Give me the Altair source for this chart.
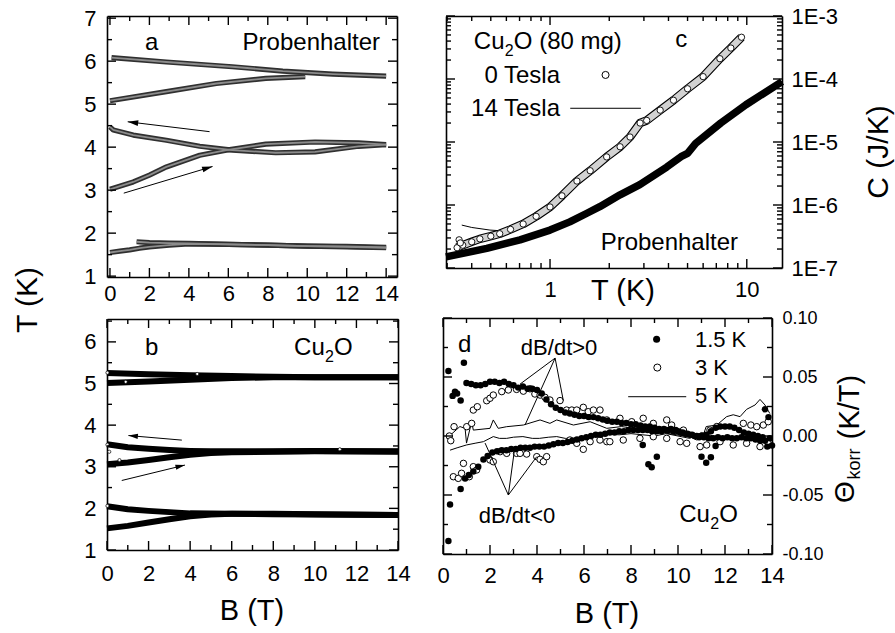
import altair as alt
import pandas as pd

W, H = 895, 633
FONT = "Liberation Sans"

# ================= DATA =================
# Panel a (Probenhalter): T (K) vs B (T)
a_B_1up = [0.0, 0.5, 1.0, 1.5, 2.0, 3.0, 4.0, 6.0, 8.0, 10.0, 12.0, 14.0]
a_T_1up = [1.55, 1.58, 1.61, 1.65, 1.68, 1.72, 1.75, 1.74, 1.72, 1.70, 1.68, 1.66]
a_B_1dn = [14.0, 12.0, 10.0, 8.0, 6.0, 4.0, 3.0, 2.0, 1.35]
a_T_1dn = [1.67, 1.69, 1.70, 1.72, 1.74, 1.76, 1.77, 1.78, 1.80]
a_B_2up = [0.0, 1.18, 2.0, 2.86, 4.55, 5.9, 7.9, 10.4, 12.6, 14.0]
a_T_2up = [3.02, 3.19, 3.35, 3.54, 3.81, 3.93, 4.07, 4.12, 4.10, 4.06]
a_B_2dn = [14.0, 12.6, 10.4, 8.4, 6.2, 4.55, 2.86, 1.18, 0.17, 0.0]
a_T_2dn = [4.06, 4.02, 3.89, 3.87, 3.93, 4.02, 4.16, 4.28, 4.40, 4.47]
a_B_3up = [0.0, 2.86, 5.39, 7.9, 9.9]
a_T_3up = [5.08, 5.29, 5.48, 5.60, 5.64]
a_B_3dn = [14.0, 11.3, 8.76, 6.2, 2.86, 0.08]
a_T_3dn = [5.65, 5.70, 5.77, 5.87, 5.98, 6.08]
a_arrow_B0 = [5.05, 0.7]
a_arrow_T0 = [4.36, 2.93]
a_arrow_B1 = [0.9, 5.2]
a_arrow_T1 = [4.59, 3.55]
a_arrow_ang = [187, 343]

# Panel b (Cu2O): T (K) vs B (T)
b_B_1up = [0, 1, 2, 3, 4, 5, 6, 8, 10, 14]
b_T_1up = [1.52, 1.58, 1.66, 1.74, 1.81, 1.85, 1.87, 1.87, 1.86, 1.84]
b_B_1dn = [14, 10, 8, 6, 4, 3, 2, 1, 0]
b_T_1dn = [1.84, 1.85, 1.86, 1.87, 1.88, 1.91, 1.94, 1.98, 2.05]
b_B_2up = [0, 1, 2, 3, 4, 5, 6, 8, 10, 14]
b_T_2up = [3.06, 3.10, 3.16, 3.23, 3.29, 3.33, 3.35, 3.36, 3.37, 3.36]
b_B_2dn = [14, 10, 8, 6, 5, 4, 3, 2, 1, 0]
b_T_2dn = [3.37, 3.38, 3.37, 3.37, 3.37, 3.38, 3.40, 3.43, 3.47, 3.54]
b_B_3up = [0, 1, 2, 4, 6, 8, 10, 14]
b_T_3up = [5.01, 5.03, 5.05, 5.09, 5.13, 5.15, 5.15, 5.15]
b_B_3dn = [14, 10, 8, 6, 4, 2, 0]
b_T_3dn = [5.15, 5.15, 5.16, 5.18, 5.20, 5.22, 5.25]
b_dot_B = [0.02, 0.9, 4.34, 0.02, 0.11, 0.6, 0.02, 11.2]
b_dot_T = [5.26, 5.04, 5.23, 3.53, 3.36, 3.16, 2.06, 3.42]
b_arrow_B0 = [3.6, 0.71]
b_arrow_T0 = [3.64, 2.67]
b_arrow_B1 = [1.03, 3.75]
b_arrow_T1 = [3.75, 3.04]
b_arrow_ang = [185, 347]

# Panel c: C (J/K) vs T (K), log-log
c0_T = [0.337, 0.36, 0.40, 0.44, 0.50, 0.555, 0.63, 0.73, 0.85, 1.0, 1.15, 1.37, 1.6,
        1.94, 2.27, 2.55, 2.87, 3.1, 3.63, 4.24, 5.0, 6.0, 7.3, 8.3, 9.4]
c0_C = [2.1e-7, 2.3e-7, 2.6e-7, 2.9e-7, 3.2e-7, 3.5e-7, 4.1e-7, 5.0e-7, 6.6e-7, 9.3e-7,
        1.4e-6, 2.4e-6, 3.5e-6, 5.8e-6, 8.4e-6, 1.2e-5, 2.0e-5, 2.2e-5, 3.2e-5, 4.6e-5,
        7.0e-5, 1.09e-4, 2.1e-4, 3.1e-4, 4.6e-4]
c0_out_T = [0.345, 0.35]
c0_out_C = [2.8e-7, 2.5e-7]
c14_T = [0.356, 0.40, 0.495, 0.56, 0.63, 0.73, 0.85, 1.0, 1.37, 1.94, 2.87, 4.24, 6.0, 9.4]
c14_C = [4.8e-7, 4.4e-7, 4.0e-7, 3.9e-7, 4.2e-7, 5.0e-7, 6.6e-7, 9.3e-7, 2.4e-6, 5.8e-6,
         2.0e-5, 4.6e-5, 1.09e-4, 4.6e-4]
ph_T = [0.296, 0.477, 0.704, 1.0, 1.26, 1.54, 1.79, 2.27, 2.86, 3.92, 4.63, 5.0, 5.5,
        7.38, 9.9, 15.1]
ph_C = [1.5e-7, 2.05e-7, 2.8e-7, 4.0e-7, 5.4e-7, 7.4e-7, 9.4e-7, 1.45e-6, 2.1e-6, 4.0e-6,
        5.85e-6, 6.6e-6, 9.5e-6, 2.0e-5, 3.9e-5, 9.1e-5]

# Panel d: Theta_korr (K/T) vs B (T)
d15_up = [(0.23, 0.055), (0.41, 0.034), (0.51, 0.0375), (0.6, 0.036), (0.75, 0.030),
          (0.89, 0.062), (1.0, 0.045), (1.2, 0.044), (1.4, 0.043), (1.6, 0.043), (1.8, 0.044),
          (2.0, 0.046), (2.2, 0.046), (2.4, 0.045), (2.6, 0.046), (2.8, 0.044), (3.0, 0.043),
          (3.2, 0.041), (3.4, 0.042), (3.6, 0.040), (3.8, 0.040), (4.0, 0.039), (4.2, 0.036),
          (4.4, 0.031), (4.6, 0.027), (4.8, 0.024), (5.0, 0.022), (5.2, 0.020), (5.4, 0.019),
          (5.6, 0.018), (5.8, 0.017), (6.0, 0.017), (6.2, 0.016), (6.4, 0.016), (6.6, 0.015),
          (6.8, 0.014), (7.0, 0.013), (7.2, 0.012), (7.4, 0.012), (7.6, 0.011), (7.8, 0.011),
          (8.0, 0.010), (8.2, 0.010), (8.4, 0.009), (8.6, 0.008), (8.8, 0.008), (9.0, 0.007),
          (9.2, 0.006), (9.4, 0.006), (9.6, 0.005), (9.8, 0.004), (10.0, 0.004), (10.2, 0.003),
          (10.4, 0.002), (10.6, 0.001), (10.8, 0.000), (11.0, 0.000), (11.2, 0.001),
          (11.4, 0.004), (11.6, 0.007), (11.8, 0.008), (12.0, 0.008), (12.2, 0.008),
          (12.4, 0.007), (12.6, 0.005), (12.8, 0.003), (13.0, 0.002), (13.2, 0.001),
          (13.4, 0.000), (13.6, -0.001), (13.7, 0.0226), (13.85, 0.016), (14.0, -0.008)]
d15_dn = [(0.23, -0.089), (0.3, -0.058), (0.75, -0.045), (0.94, -0.036), (1.1, -0.033),
          (1.29, -0.030), (1.5, -0.026), (1.72, -0.020), (1.9, -0.017), (2.1, -0.014),
          (2.3, -0.013), (2.5, -0.012), (2.7, -0.012), (2.9, -0.011), (3.1, -0.011),
          (3.3, -0.010), (3.5, -0.010), (3.7, -0.010), (3.9, -0.009), (4.1, -0.009),
          (4.3, -0.009), (4.5, -0.008), (4.7, -0.007), (4.9, -0.006), (5.1, -0.006),
          (5.3, -0.005), (5.5, -0.004), (5.7, -0.003), (5.9, -0.002), (6.1, -0.001),
          (6.3, 0.000), (6.5, 0.001), (6.7, 0.001), (6.9, 0.002), (7.1, 0.003), (7.3, 0.003),
          (7.5, 0.004), (7.7, 0.004), (7.9, 0.005), (8.1, 0.005), (8.3, 0.005), (8.5, 0.005),
          (8.5, -0.0076), (8.7, 0.005), (8.74, -0.024), (8.88, -0.0265), (8.9, 0.004),
          (9.1, -0.0175), (9.1, 0.004), (9.3, 0.004), (9.5, 0.005), (9.7, 0.006), (9.9, 0.005),
          (10.1, 0.003), (10.3, 0.002), (10.5, 0.001), (10.7, 0.000), (10.9, -0.001),
          (11.0, -0.0175), (11.1, -0.001), (11.2, -0.0226), (11.3, -0.002), (11.4, -0.018),
          (11.5, -0.002), (11.6, -0.0085), (11.7, -0.001), (11.9, -0.002), (12.1, -0.001),
          (12.3, -0.002), (12.5, -0.002), (12.7, -0.001), (12.9, -0.002), (13.1, -0.002),
          (13.3, -0.003), (13.5, -0.004), (13.7, -0.004), (13.8, -0.009), (13.9, -0.002)]
d3_up = [(0.27, 0.000), (0.33, -0.004), (0.47, 0.0079), (1.01, 0.0079), (1.22, 0.0107),
         (1.29, 0.022), (1.46, 0.0248), (1.86, 0.0299), (2.0, 0.032), (2.14, 0.0347),
         (2.5, 0.0376), (2.78, 0.039), (3.13, 0.0395), (3.42, 0.038), (3.7, 0.040),
         (3.91, 0.0356), (4.13, 0.0347), (4.34, 0.0328), (4.55, 0.0305), (4.98, 0.030),
         (5.26, 0.022), (5.48, 0.022), (5.69, 0.022), (5.97, 0.0243), (6.18, 0.0206),
         (6.4, 0.022), (6.68, 0.022), (6.97, 0.0136), (7.53, 0.015), (8.03, 0.0121),
         (8.52, 0.015), (8.95, 0.0107), (9.52, 0.0136), (9.73, 0.0093), (10.23, 0.005),
         (10.8, -0.0006), (11.36, 0.005), (11.65, 0.008), (12.78, 0.0107), (13.1, 0.0093),
         (13.35, 0.0079), (13.63, 0.0093), (13.84, 0.0121)]
d3_dn = [(0.44, -0.0345), (0.65, -0.0359), (0.79, -0.0316), (0.87, -0.0232), (1.12, -0.0345),
         (1.29, -0.026), (1.43, -0.0288), (2.0, -0.0203), (2.14, -0.0218), (2.43, -0.0133),
         (2.71, -0.0147), (3.13, -0.0147), (3.28, -0.0147), (3.56, -0.0153), (3.99, -0.0175),
         (4.13, -0.0198), (4.27, -0.0218), (4.41, -0.0175), (5.4, -0.0034), (5.69, -0.0062),
         (5.97, -0.0113), (6.26, -0.0048), (6.68, -0.0034), (6.97, -0.0048), (7.1, -0.0048),
         (7.67, -0.0034), (8.38, -0.002), (8.95, -0.0006), (9.52, -0.002), (10.09, -0.0048),
         (10.37, -0.0062), (10.94, -0.009), (11.22, -0.0076), (11.79, -0.0048),
         (12.35, -0.0076), (12.92, -0.0062), (13.49, -0.009), (13.84, -0.0062)]
d5_up = [(0.16, -0.002), (0.72, 0.008), (0.94, 0.0065), (1.0, -0.006), (1.22, 0.0121),
         (1.29, 0.005), (2.0, 0.0065), (2.14, 0.0136), (2.35, 0.0065), (2.71, 0.0079),
         (3.42, 0.0093), (4.13, 0.0136), (4.55, 0.0107), (4.84, 0.0136), (5.55, 0.0093),
         (6.26, 0.0121), (6.97, 0.0065), (7.6, 0.008), (8.1, 0.0065), (8.6, 0.006),
         (9.1, 0.004), (9.52, 0.0023), (10.5, -0.0006), (11.08, 0.001), (11.2, 0.008),
         (11.65, 0.0093), (12.07, 0.0164), (12.35, 0.018), (12.64, 0.0164), (12.92, 0.0226),
         (13.28, 0.0263), (13.49, 0.031), (13.7, 0.0263), (13.91, 0.019)]
d5_dn = [(0.3, -0.012), (0.6, -0.010), (1.0, -0.0076), (1.4, -0.006), (1.72, -0.0048),
         (2.14, -0.0005), (2.4, -0.002), (2.71, -0.002), (3.0, -0.001), (3.4, -0.0005),
         (3.8, -0.002), (4.1, -0.002), (4.5, -0.001), (4.84, -0.0005), (5.2, -0.002),
         (5.5, -0.002), (6.0, -0.0005), (6.5, 0.0), (6.97, 0.0017), (7.5, 0.001), (8.0, 0.002),
         (8.5, 0.001), (9.0, 0.0), (9.5, 0.002), (10.0, 0.0), (10.5, -0.002), (11.0, 0.003),
         (11.5, 0.0), (12.0, -0.002), (12.5, -0.001), (13.0, -0.003), (13.5, -0.001),
         (14.0, -0.004)]
# pointer lines from the dB/dt labels to the curves
d_ptr_B0 = [4.77, 4.77, 4.77, 2.78, 2.78, 2.78]
d_ptr_T0 = [0.066, 0.066, 0.066, -0.050, -0.050, -0.050]
d_ptr_B1 = [3.28, 3.49, 5.12, 1.79, 3.06, 3.99]
d_ptr_T1 = [0.044, 0.0093, 0.030, -0.006, -0.009, -0.0175]

# tick / label values
ab_x_major = list(range(0, 15, 2))
ab_x_minor = list(range(1, 15, 2))
a_y_major = [1, 2, 3, 4, 5, 6, 7]
a_y_minor = [1.5, 2.5, 3.5, 4.5, 5.5, 6.5]
b_y_major = [1, 2, 3, 4, 5, 6]
b_y_minor = [1.5, 2.5, 3.5, 4.5, 5.5, 6.5]
c_x_major = [1, 10]
c_x_minor = [0.3, 0.4, 0.5, 0.6, 0.7, 0.8, 0.9, 2, 3, 4, 5, 6, 7, 8, 9]
c_y_major = [1e-7, 1e-6, 1e-5, 1e-4, 1e-3]
c_y_minor = [m * 10.0 ** e for e in (-7, -6, -5, -4) for m in range(2, 10)]
d_y_major = [-0.1, -0.05, 0.0, 0.05, 0.1]
d_y_minor = [-0.075, -0.025, 0.025, 0.075]

# ================= LAYOUT (pixel frames of the panels) =================
PA = dict(x0=107, x1=397, y0=16, y1=277, xd=[-0.15, 14.55], yd=[0.98, 7.05], xt="linear", yt="linear")
PB = dict(x0=107, x1=398, y0=319, y1=550, xd=[0, 14], yd=[1.0, 6.55], xt="linear", yt="linear")
PC = dict(x0=446, x1=782, y0=16, y1=268, xd=[0.296, 15.1], yd=[1e-7, 1e-3], xt="log", yt="log")
PD = dict(x0=443, x1=772, y0=318, y1=554, xd=[0, 14], yd=[-0.1, 0.1], xt="linear", yt="linear")
MAJ, MIN = 9, 5
TW = 1.4


def _scale(t, dom, rng):
    if t == "log":
        return alt.Scale(type="log", domain=dom, range=rng, nice=False)
    return alt.Scale(type="linear", domain=dom, range=rng, nice=False, zero=False)


def xs(p):
    return _scale(p["xt"], p["xd"], [p["x0"], p["x1"]])


def ys(p):
    return _scale(p["yt"], p["yd"], [p["y1"], p["y0"]])


def ex(p, f, axis=None):
    return alt.X(f"{f}:Q", scale=xs(p), axis=axis)


def ey(p, f, axis=None):
    return alt.Y(f"{f}:Q", scale=ys(p), axis=axis)


def curves(*specs):
    rows = []
    for name, u, v in specs:
        for i, (a, b) in enumerate(zip(u, v)):
            rows.append({"x": a, "y": b, "c": name, "i": i})
    return pd.DataFrame(rows)


def pairs(*specs):
    rows = []
    for name, pts in specs:
        for i, (a, b) in enumerate(pts):
            rows.append({"x": a, "y": b, "c": name, "i": i})
    return pd.DataFrame(rows)


def line_layer(p, df, color, width):
    return alt.Chart(df).mark_line(color=color, strokeWidth=width, strokeJoin="round").encode(
        x=ex(p, "x"), y=ey(p, "y"), detail="c:N", order="i:Q")


def pts_layer(p, df, size, fill, stroke=None, sw=1.0):
    kw = dict(shape="circle", filled=True, fill=fill, size=size, opacity=1)
    if stroke:
        kw.update(stroke=stroke, strokeWidth=sw)
    return alt.Chart(df).mark_point(**kw).encode(x=ex(p, "x"), y=ey(p, "y"))


ARROW = "M0,0 L-2,-0.55 L-2,0.55 Z"


def segment_layer(p, df, width=1.0):
    """straight segments (x0,y0)-(x1,y1), all four ends through the panel scales"""
    return alt.Chart(df).mark_rule(color="black", strokeWidth=width).encode(
        x=ex(p, "x0"), y=ey(p, "y0"), x2="x1:Q", y2="y1:Q")


def arrow_layers(p, B0, T0, B1, T1, ang, size):
    df = pd.DataFrame({"x0": B0, "y0": T0, "x1": B1, "y1": T1, "a": ang})
    shaft = segment_layer(p, df)
    head = alt.Chart(df).mark_point(shape=ARROW, filled=True, color="black", size=size, opacity=1).encode(
        x=ex(p, "x1"), y=ey(p, "y1"), angle=alt.Angle("a:Q", scale=None))
    return [shaft, head]


def text_at(p, x, y, s, size, align="left", baseline="alphabetic", dx=0, dy=0):
    df = pd.DataFrame({"x": [x], "y": [y]})
    kw = dict(text=s, font=FONT, fontSize=size, align=align, baseline=baseline, color="black")
    if dx:
        kw["dx"] = dx
    if dy:
        kw["dy"] = dy
    return alt.Chart(df).mark_text(**kw).encode(x=ex(p, "x"), y=ey(p, "y"))


ONE = pd.DataFrame({"k": [0]})


def title_at(s, x, y, size, angle=0):
    kw = dict(text=s, font=FONT, fontSize=size, align="center", baseline="middle", color="black")
    if angle:
        kw["angle"] = angle
    return alt.Chart(ONE).mark_text(**kw).encode(x=alt.value(x), y=alt.value(y))


def _inward(t, d0, d1, p0, p1, edge_val, npx, sign):
    """data value lying npx pixels inside the frame from edge_val"""
    if t == "log":
        f = (d1 / d0) ** (npx / abs(p1 - p0))
        return edge_val * f if sign > 0 else edge_val / f
    return edge_val + sign * (d1 - d0) * npx / abs(p1 - p0)


def tick_segments(p, xmaj, xmin, ymaj, ymin):
    """Inward frame ticks as ordinary segments (same construction as the arrow shafts)."""
    (xd0, xd1), (yd0, yd1) = p["xd"], p["yd"]
    rows = []
    for vals, ln in ((xmaj, MAJ), (xmin, MIN)):
        lo_in = _inward(p["yt"], yd0, yd1, p["y0"], p["y1"], yd0, ln, 1)
        hi_in = _inward(p["yt"], yd0, yd1, p["y0"], p["y1"], yd1, ln, -1)
        for v in vals:
            rows.append({"x0": v, "y0": yd0, "x1": v, "y1": lo_in})
            rows.append({"x0": v, "y0": yd1, "x1": v, "y1": hi_in})
    for vals, ln in ((ymaj, MAJ), (ymin, MIN)):
        lo_in = _inward(p["xt"], xd0, xd1, p["x0"], p["x1"], xd0, ln, 1)
        hi_in = _inward(p["xt"], xd0, xd1, p["x0"], p["x1"], xd1, ln, -1)
        for v in vals:
            rows.append({"x0": xd0, "y0": v, "x1": lo_in, "y1": v})
            rows.append({"x0": xd1, "y0": v, "x1": hi_in, "y1": v})
    return segment_layer(p, pd.DataFrame(rows), TW)


def axis_layers(p, xmaj, ymaj, yorient, xpad, ypad, xfs, yfs, xexpr=None, yexpr=None):
    df = pd.DataFrame({"x": p["xd"], "y": p["yd"]})
    base = alt.Chart(df).mark_point(opacity=0)
    out = []
    fc = dict(labels=False, ticks=False, grid=False, title=None, domainColor="black",
              domainWidth=1.6)
    out.append(base.encode(
        x=ex(p, "x", alt.Axis(orient="top", offset=-p["y1"], **fc)),
        y=ey(p, "y", alt.Axis(orient="right", offset=p["x0"] - W, **fc))))
    out.append(base.encode(
        x=ex(p, "x", alt.Axis(orient="bottom", offset=p["y0"] - H, **fc)),
        y=ey(p, "y", alt.Axis(orient="left", offset=-p["x1"], **fc))))
    lc = dict(ticks=False, tickSize=0, domain=False, grid=False, title=None, labelFont=FONT,
              labelColor="black", labelFlush=False, labelOverlap=False)
    xk = dict(lc)
    if xexpr:
        xk["labelExpr"] = xexpr
    yk = dict(lc)
    if yexpr:
        yk["labelExpr"] = yexpr
    yoff = -p["x0"] if yorient == "left" else p["x1"] - W
    out.append(base.encode(
        x=ex(p, "x", alt.Axis(orient="bottom", offset=p["y1"] - H, values=xmaj,
                              labelPadding=xpad, labelFontSize=xfs, **xk)),
        y=ey(p, "y", alt.Axis(orient=yorient, offset=yoff, values=ymaj,
                              labelPadding=ypad, labelFontSize=yfs, **yk))))
    return out


L = []

# ---------- panel a ----------
dfa = curves(("1u", a_B_1up, a_T_1up), ("1d", a_B_1dn, a_T_1dn), ("2u", a_B_2up, a_T_2up),
             ("2d", a_B_2dn, a_T_2dn), ("3u", a_B_3up, a_T_3up), ("3d", a_B_3dn, a_T_3dn))
L.append(line_layer(PA, dfa, "#303030", 5.2))
L.append(line_layer(PA, dfa, "#8c8c8c", 1.8))
L += arrow_layers(PA, a_arrow_B0, a_arrow_T0, a_arrow_B1, a_arrow_T1, a_arrow_ang, 110)
L.append(tick_segments(PA, ab_x_major, ab_x_minor, a_y_major, a_y_minor))
L.append(text_at(PA, 1.78, 6.26, "a", 24))
L.append(text_at(PA, 13.69, 6.26, "Probenhalter", 24, align="right"))
L += axis_layers(PA, ab_x_major, a_y_major, "left", 6, 11, 22, 22)

# ---------- panel b ----------
dfb = curves(("1u", b_B_1up, b_T_1up), ("1d", b_B_1dn, b_T_1dn), ("2u", b_B_2up, b_T_2up),
             ("2d", b_B_2dn, b_T_2dn), ("3u", b_B_3up, b_T_3up), ("3d", b_B_3dn, b_T_3dn))
L.append(line_layer(PB, dfb, "black", 6))
dfbd = pd.DataFrame({"x": b_dot_B, "y": b_dot_T})
L.append(pts_layer(PB, dfbd, 10, "white", "black", 0.7))
L += arrow_layers(PB, b_arrow_B0, b_arrow_T0, b_arrow_B1, b_arrow_T1, b_arrow_ang, 90)
L.append(tick_segments(PB, ab_x_major, ab_x_minor, b_y_major, b_y_minor))
L.append(text_at(PB, 1.83, 5.685, "b", 24))
L.append(text_at(PB, 9.0, 5.685, "Cu", 24))
L.append(text_at(PB, 9.0, 5.685, "2", 16, dx=31, dy=7))
L.append(text_at(PB, 9.0, 5.685, "O", 24, dx=40))
L += axis_layers(PB, ab_x_major, b_y_major, "left", 13, 11, 22, 22)

# ---------- panel c ----------
dfph = curves(("ph", ph_T, ph_C))
dfc0 = curves(("c0", c0_T, c0_C))
dfc14 = curves(("c14", c14_T, c14_C))
dfco = pd.DataFrame({"x": c0_out_T, "y": c0_out_C})
L.append(line_layer(PC, dfph, "black", 7.5))
L.append(line_layer(PC, dfc14, "black", 1))
L.append(line_layer(PC, dfc0, "black", 8.5))
L.append(line_layer(PC, dfc0, "#d2d2d2", 6.3))
L.append(pts_layer(PC, dfc0, 40, "white", "black", 0.9))
L.append(pts_layer(PC, dfco, 40, "white", "black", 0.9))
L.append(tick_segments(PC, c_x_major, c_x_minor, c_y_major, c_y_minor))
# legend
L.append(pts_layer(PC, pd.DataFrame({"x": [1.915], "y": [1.16e-4]}), 50, "white", "black", 1))
L.append(alt.Chart(pd.DataFrame({"x0": [1.267], "x1": [2.896], "y": [3.43e-5]})).mark_rule(
    color="black", strokeWidth=1).encode(x=ex(PC, "x0"), x2="x1:Q", y=ey(PC, "y")))
L.append(text_at(PC, 0.41, 2.99e-4, "Cu", 24))
L.append(text_at(PC, 0.41, 2.99e-4, "2", 16, dx=31, dy=7))
L.append(text_at(PC, 0.41, 2.99e-4, "O (80 mg)", 24, dx=40))
L.append(text_at(PC, 4.64, 3.22e-4, "c", 24, align="center"))
L.append(text_at(PC, 1.124, 8.65e-5, "0 Tesla", 24, align="right"))
L.append(text_at(PC, 1.124, 2.59e-5, "14 Tesla", 24, align="right"))
L.append(text_at(PC, 9.03, 1.93e-7, "Probenhalter", 24, align="right"))
L += axis_layers(PC, c_x_major, c_y_major, "right", 11, 9, 22, 22,
                 xexpr="format(datum.value, 'd')",
                 yexpr="'1E-' + format(-round(log(datum.value)/LN10), 'd')")

# ---------- panel d ----------
df5 = pairs(("u", d5_up), ("d", d5_dn))
df3 = pairs(("u", d3_up), ("d", d3_dn))
df15 = pairs(("u", d15_up), ("d", d15_dn))
L.append(line_layer(PD, df5, "black", 1))
L.append(pts_layer(PD, df3, 42, "white", "black", 1))
L.append(pts_layer(PD, df15, 42, "black"))
dfp = pd.DataFrame({"x0": d_ptr_B0, "y0": d_ptr_T0, "x1": d_ptr_B1, "y1": d_ptr_T1})
L.append(segment_layer(PD, dfp))
L.append(tick_segments(PD, ab_x_major, ab_x_minor, d_y_major, d_y_minor))
# legend
L.append(pts_layer(PD, pd.DataFrame({"x": [9.09], "y": [0.082]}), 50, "black"))
L.append(pts_layer(PD, pd.DataFrame({"x": [9.12], "y": [0.058]}), 50, "white", "black", 1))
L.append(alt.Chart(pd.DataFrame({"x0": [7.88], "x1": [10.35], "y": [0.0333]})).mark_rule(
    color="black", strokeWidth=1).encode(x=ex(PD, "x0"), x2="x1:Q", y=ey(PD, "y")))
L.append(text_at(PD, 10.72, 0.0754, "1.5 K", 22))
L.append(text_at(PD, 10.72, 0.0517, "3 K", 22))
L.append(text_at(PD, 10.72, 0.028, "5 K", 22))
L.append(text_at(PD, 0.64, 0.0712, "d", 24))
L.append(text_at(PD, 4.94, 0.0686, "dB/dt>0", 22, align="center"))
L.append(text_at(PD, 3.15, -0.0737, "dB/dt<0", 22, align="center"))
L.append(text_at(PD, 10.05, -0.0729, "Cu", 24))
L.append(text_at(PD, 10.05, -0.0729, "2", 16, dx=31, dy=7))
L.append(text_at(PD, 10.05, -0.0729, "O", 24, dx=40))
L += axis_layers(PD, ab_x_major, d_y_major, "right", 11, 10, 22, 18,
                 yexpr="datum.value < 0 ? '-' + format(-datum.value, '.2f') : format(datum.value, '.2f')")

# ---------- axis titles ----------
L.append(title_at("T (K)", 28, 300, 30, angle=270))
L.append(title_at("B (T)", 252, 611, 29))
L.append(title_at("B (T)", 607, 614, 29))
L.append(title_at("T (K)", 623, 291, 29))
L.append(title_at("C (J/K)", 879, 152, 30, angle=270))
L.append(title_at("(K/T)", 850, 407, 29, angle=270))
L.append(title_at("Θ", 846, 492, 28, angle=270))
L.append(title_at("korr", 855, 464, 18, angle=270))

chart = alt.layer(*L).resolve_scale(x="independent", y="independent").properties(
    width=W, height=H, autosize=alt.AutoSizeParams(type="none"), padding=0
).configure_view(strokeWidth=0)

chart.save("out.html", embed_options={"renderer": "svg", "actions": False})
